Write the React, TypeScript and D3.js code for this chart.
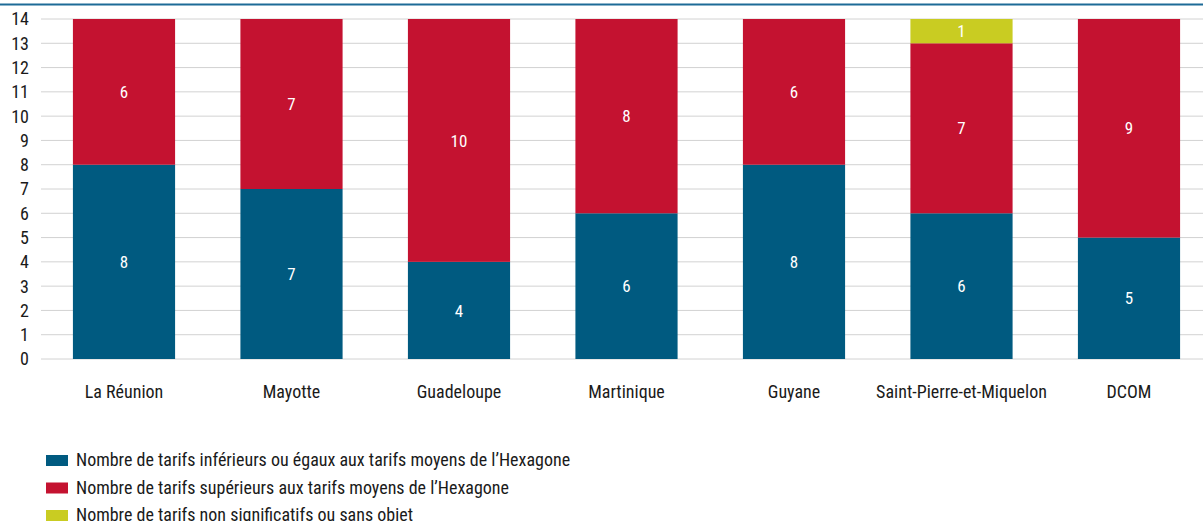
import React from "react";
import * as d3 from "d3";

const categories = [
  "La Réunion",
  "Mayotte",
  "Guadeloupe",
  "Martinique",
  "Guyane",
  "Saint-Pierre-et-Miquelon",
  "DCOM",
];
const inferieurs = [8, 7, 4, 6, 8, 6, 5];
const superieurs = [6, 7, 10, 8, 6, 7, 9];
const nonSignificatifs = [0, 0, 0, 0, 0, 1, 0];
const yTicks = [0, 1, 2, 3, 4, 5, 6, 7, 8, 9, 10, 11, 12, 13, 14];
const seriesNames = [
  "Nombre de tarifs inférieurs ou égaux aux tarifs moyens de l’Hexagone",
  "Nombre de tarifs supérieurs aux tarifs moyens de l’Hexagone",
  "Nombre de tarifs non significatifs ou sans objet",
];
const colors = ["#005a80", "#c41230", "#c9cc22"];

const W = 1203;
const H = 521;
const FONT = "'Liberation Sans Narrow', 'Roboto Condensed', 'Liberation Sans', Arial, sans-serif";

export default function App() {
  const x = d3
    .scaleBand<string>()
    .domain(categories)
    .range([40.25, 1212.75])
    .paddingInner(0.39)
    .paddingOuter(0.195);
  const y = d3.scaleLinear().domain([0, 14]).range([359, 19]);

  const rows = categories.map((c, i) => ({
    cat: c,
    v0: inferieurs[i],
    v1: superieurs[i],
    v2: nonSignificatifs[i],
  }));
  const stack = d3.stack<any>().keys(["v0", "v1", "v2"]);
  const layers = stack(rows);

  return (
    <svg
      width={W}
      height={H}
      style={{ position: "absolute", left: 0, top: 0, background: "#fff" }}
      fontFamily={FONT}
    >
      <line x1={0} x2={W} y1={4.5} y2={4.5} stroke="#1d6b97" strokeWidth={1.8} />
      {yTicks.map((t) => (
        <g key={t}>
          <line x1={41} x2={W} y1={y(t)} y2={y(t)} stroke="#d2d2d2" strokeWidth={1} />
          <text x={29} y={y(t)} dy="0.36em" textAnchor="end" fontSize={18} fill="#1a1a1a">
            {t}
          </text>
        </g>
      ))}
      {layers.map((layer, li) => (
        <g key={li}>
          {layer.map((d: any, i: number) => {
            const v = d[1] - d[0];
            if (v <= 0) return null;
            const x0 = x(categories[i])!;
            return (
              <g key={i}>
                <rect
                  x={x0}
                  y={y(d[1])}
                  width={x.bandwidth()}
                  height={y(d[0]) - y(d[1])}
                  fill={colors[li]}
                />
                <text
                  x={x0 + x.bandwidth() / 2}
                  y={(y(d[0]) + y(d[1])) / 2}
                  dy="0.36em"
                  textAnchor="middle"
                  fontSize={17}
                  fill="#fff"
                >
                  {v}
                </text>
              </g>
            );
          })}
        </g>
      ))}
      {categories.map((c) => (
        <text
          key={c}
          x={x(c)! + x.bandwidth() / 2}
          y={398}
          textAnchor="middle"
          fontSize={18}
          fill="#1a1a1a"
        >
          {c}
        </text>
      ))}
      {seriesNames.map((s, i) => (
        <g key={s}>
          <rect x={46} y={455 + i * 27.5} width={22} height={11} fill={colors[i]} />
          <text x={76} y={466 + i * 27.5} fontSize={18} fill="#1a1a1a">
            {s}
          </text>
        </g>
      ))}
    </svg>
  );
}
